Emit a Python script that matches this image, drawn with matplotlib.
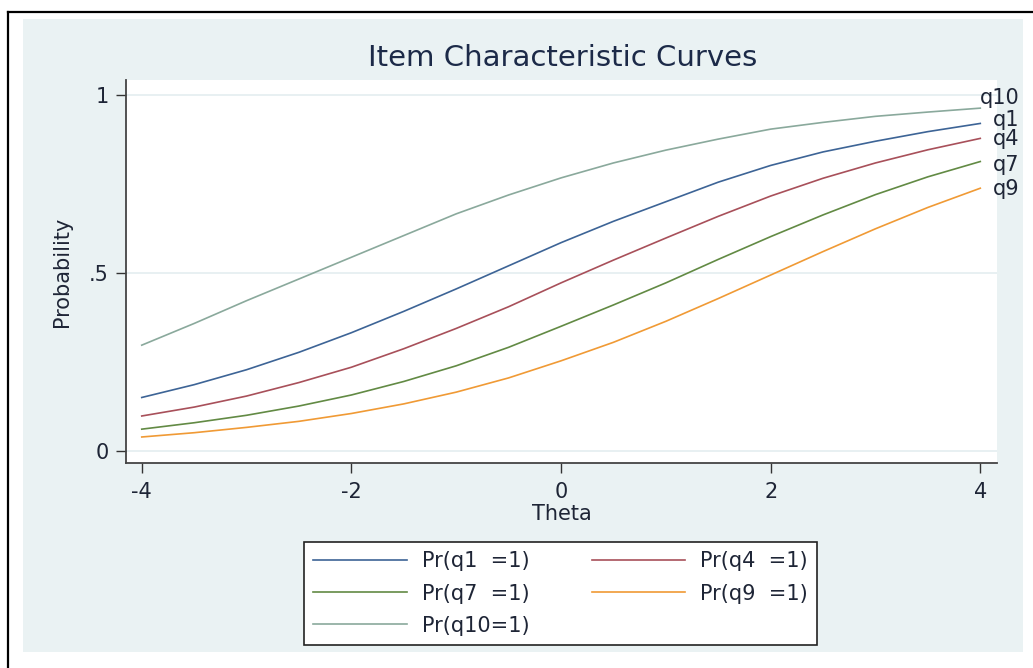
import numpy as np
import matplotlib.pyplot as plt
from matplotlib.patches import Rectangle
from matplotlib.lines import Line2D

# values (theta steps of 0.5)
theta = [-4, -3.5, -3, -2.5, -2, -1.5, -1, -0.5, 0, 0.5, 1, 1.5, 2, 2.5, 3, 3.5, 4]
q1 = [0.150, 0.186, 0.228, 0.277, 0.332, 0.392, 0.455, 0.520, 0.585, 0.645, 0.700, 0.755, 0.802, 0.840, 0.870, 0.897, 0.920]
q4 = [0.098, 0.123, 0.154, 0.192, 0.235, 0.287, 0.344, 0.405, 0.472, 0.536, 0.598, 0.659, 0.716, 0.766, 0.809, 0.846, 0.878]
q7 = [0.061, 0.079, 0.100, 0.126, 0.157, 0.195, 0.239, 0.291, 0.350, 0.410, 0.472, 0.538, 0.602, 0.663, 0.720, 0.770, 0.813]
q9 = [0.039, 0.051, 0.066, 0.083, 0.105, 0.132, 0.165, 0.205, 0.253, 0.305, 0.364, 0.428, 0.494, 0.560, 0.624, 0.684, 0.738]
q10 = [0.297, 0.358, 0.422, 0.483, 0.544, 0.605, 0.666, 0.719, 0.767, 0.809, 0.845, 0.876, 0.904, 0.923, 0.940, 0.952, 0.963]

items = ["q1", "q4", "q7", "q9", "q10"]
legend_labels = ["Pr(q1  =1)", "Pr(q4  =1)", "Pr(q7  =1)", "Pr(q9  =1)", "Pr(q10=1)"]
colors = ["#3d6496", "#a8505a", "#628a44", "#f09a35", "#8aa99c"]
series = [q1, q4, q7, q9, q10]
# vertical nudge of the end labels (pixels)
label_dy = [3, -0.5, -3, -1, 10.5]

yticks = [0, 0.5, 1]
ytick_labels = ["0", ".5", "1"]
xticks = [-4, -2, 0, 2, 4]

txt = "#1e2536"
bg = "#eaf2f3"

fig = plt.figure(figsize=(10.33, 6.68), dpi=100)
fig.patch.set_facecolor("white")
fig.add_artist(Rectangle((0.0223, 0.024), 0.968, 0.9476, transform=fig.transFigure,
                         facecolor=bg, edgecolor="none", zorder=-5))
fig.add_artist(Line2D([0.0073, 1.0], [0.9813, 0.9813], transform=fig.transFigure,
                      color="black", lw=1.6, zorder=10))
fig.add_artist(Line2D([0.0073, 0.0073], [0.0, 0.9813], transform=fig.transFigure,
                      color="black", lw=1.6, zorder=10))

ax = fig.add_axes([0.122, 0.3064, 0.8432, 0.5738])
ax.set_facecolor("white")

for y in yticks:
    ax.axhline(y, color="#e4eef0", lw=1.2, zorder=0)

handles = {}
for name, lab, col, vals, dy in zip(items, legend_labels, colors, series, label_dy):
    h, = ax.plot(theta, vals, color=col, lw=1.2, label=lab, zorder=3)
    handles[name] = h
    ax.annotate(name, xy=(theta[-1], vals[-1]), xytext=(39, dy), textcoords="offset pixels",
                ha="right", va="center", fontsize=15, color=txt, annotation_clip=False)

ax.set_xlim(-4.15, 4.16)
ax.set_ylim(-0.035, 1.042)
ax.set_xticks(xticks)
ax.set_xticklabels([str(x) for x in xticks])
ax.set_yticks(yticks)
ax.set_yticklabels(ytick_labels)
ax.tick_params(axis="x", length=7.2, width=1, color="#333333", labelsize=15, labelcolor=txt, pad=6.5)
ax.tick_params(axis="y", length=7.2, width=1, color="#333333", labelsize=15, labelcolor=txt, pad=5)

for s in ["top", "right"]:
    ax.spines[s].set_visible(False)
for s in ["left", "bottom"]:
    ax.spines[s].set_color("#444444")
    ax.spines[s].set_linewidth(1.3)

ax.set_xlabel("Theta", fontsize=15, color=txt)
ax.xaxis.set_label_coords(0.5, -0.106)
ax.set_ylabel("Probability", fontsize=15, color=txt)
ax.yaxis.set_label_coords(-0.062, 0.5)

fig.text(0.545, 0.913, "Item Characteristic Curves", fontsize=21, color="#1c2a48",
         ha="center", va="center")

# legend is filled column by column, so order it to read row-wise like the original
order = ["q1", "q7", "q10", "q4", "q9"]
leg = fig.legend(handles=[handles[k] for k in order], loc="lower left", ncol=2, mode="expand",
                 bbox_to_anchor=(0.2943, 0.0344, 0.4966, 0.157),
                 bbox_transform=fig.transFigure, borderaxespad=0,
                 fontsize=15, frameon=True, fancybox=False, framealpha=1,
                 edgecolor="#222222", handlelength=4.5, handletextpad=0.7,
                 labelspacing=0.58, borderpad=0.45)
leg.get_frame().set_linewidth(1.2)
for t in leg.get_texts():
    t.set_color(txt)

fig.savefig("out.png", dpi=100)
